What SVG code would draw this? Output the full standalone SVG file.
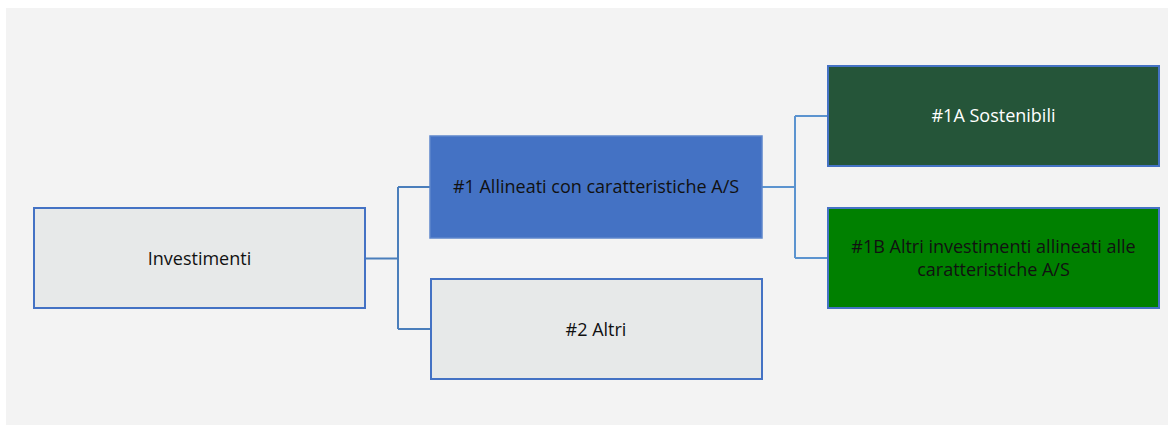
<svg xmlns="http://www.w3.org/2000/svg" width="1169" height="425" viewBox="0 0 1169 425">
<style>
.box{stroke:#4472c4;stroke-width:2}
.gray{fill:#e7e9e9}
.t{font-family:"Open Sans","Liberation Sans",Arial,sans-serif;font-size:18px;text-anchor:middle;fill:#111}
.w{fill:#ffffff}
.conn{fill:none;stroke:#4a7ebb;stroke-width:2}
.conn2{fill:none;stroke:#5b93cf;stroke-width:2}
</style>
<rect x="0" y="0" width="1169" height="425" fill="#ffffff"/>
<rect x="6" y="8" width="1162" height="417" fill="#f3f3f3"/>
<g id="connectors">
<path class="conn" d="M365 258.5 H398 M398 187 V329 M398 187 H430 M398 329 H430"/>
<path class="conn2" d="M762 187 H795 M795 116 V258 M795 116 H828 M795 258 H828"/>
</g>
<g id="node-investimenti">
<rect class="box gray" x="34" y="208" width="331" height="100"/>
<text class="t" x="199.5" y="264.5">Investimenti</text>
</g>
<g id="node-1">
<rect x="430" y="136" width="332" height="102" fill="#4472c4" stroke="#5d86cc" stroke-width="1.5"/>
<text class="t" x="596" y="193">#1 Allineati con caratteristiche A/S</text>
</g>
<g id="node-2">
<rect class="box gray" x="431" y="279" width="331" height="100"/>
<text class="t" x="596" y="336">#2 Altri</text>
</g>
<g id="node-1a">
<rect class="box" x="828" y="66" width="331" height="100" fill="#255539"/>
<text class="t w" x="993.5" y="122">#1A Sostenibili</text>
</g>
<g id="node-1b">
<rect class="box" x="828" y="208" width="331" height="100" fill="#008000"/>
<text class="t" x="993.5" y="253">#1B Altri investimenti allineati alle</text>
<text class="t" x="993.5" y="276">caratteristiche A/S</text>
</g>
</svg>
